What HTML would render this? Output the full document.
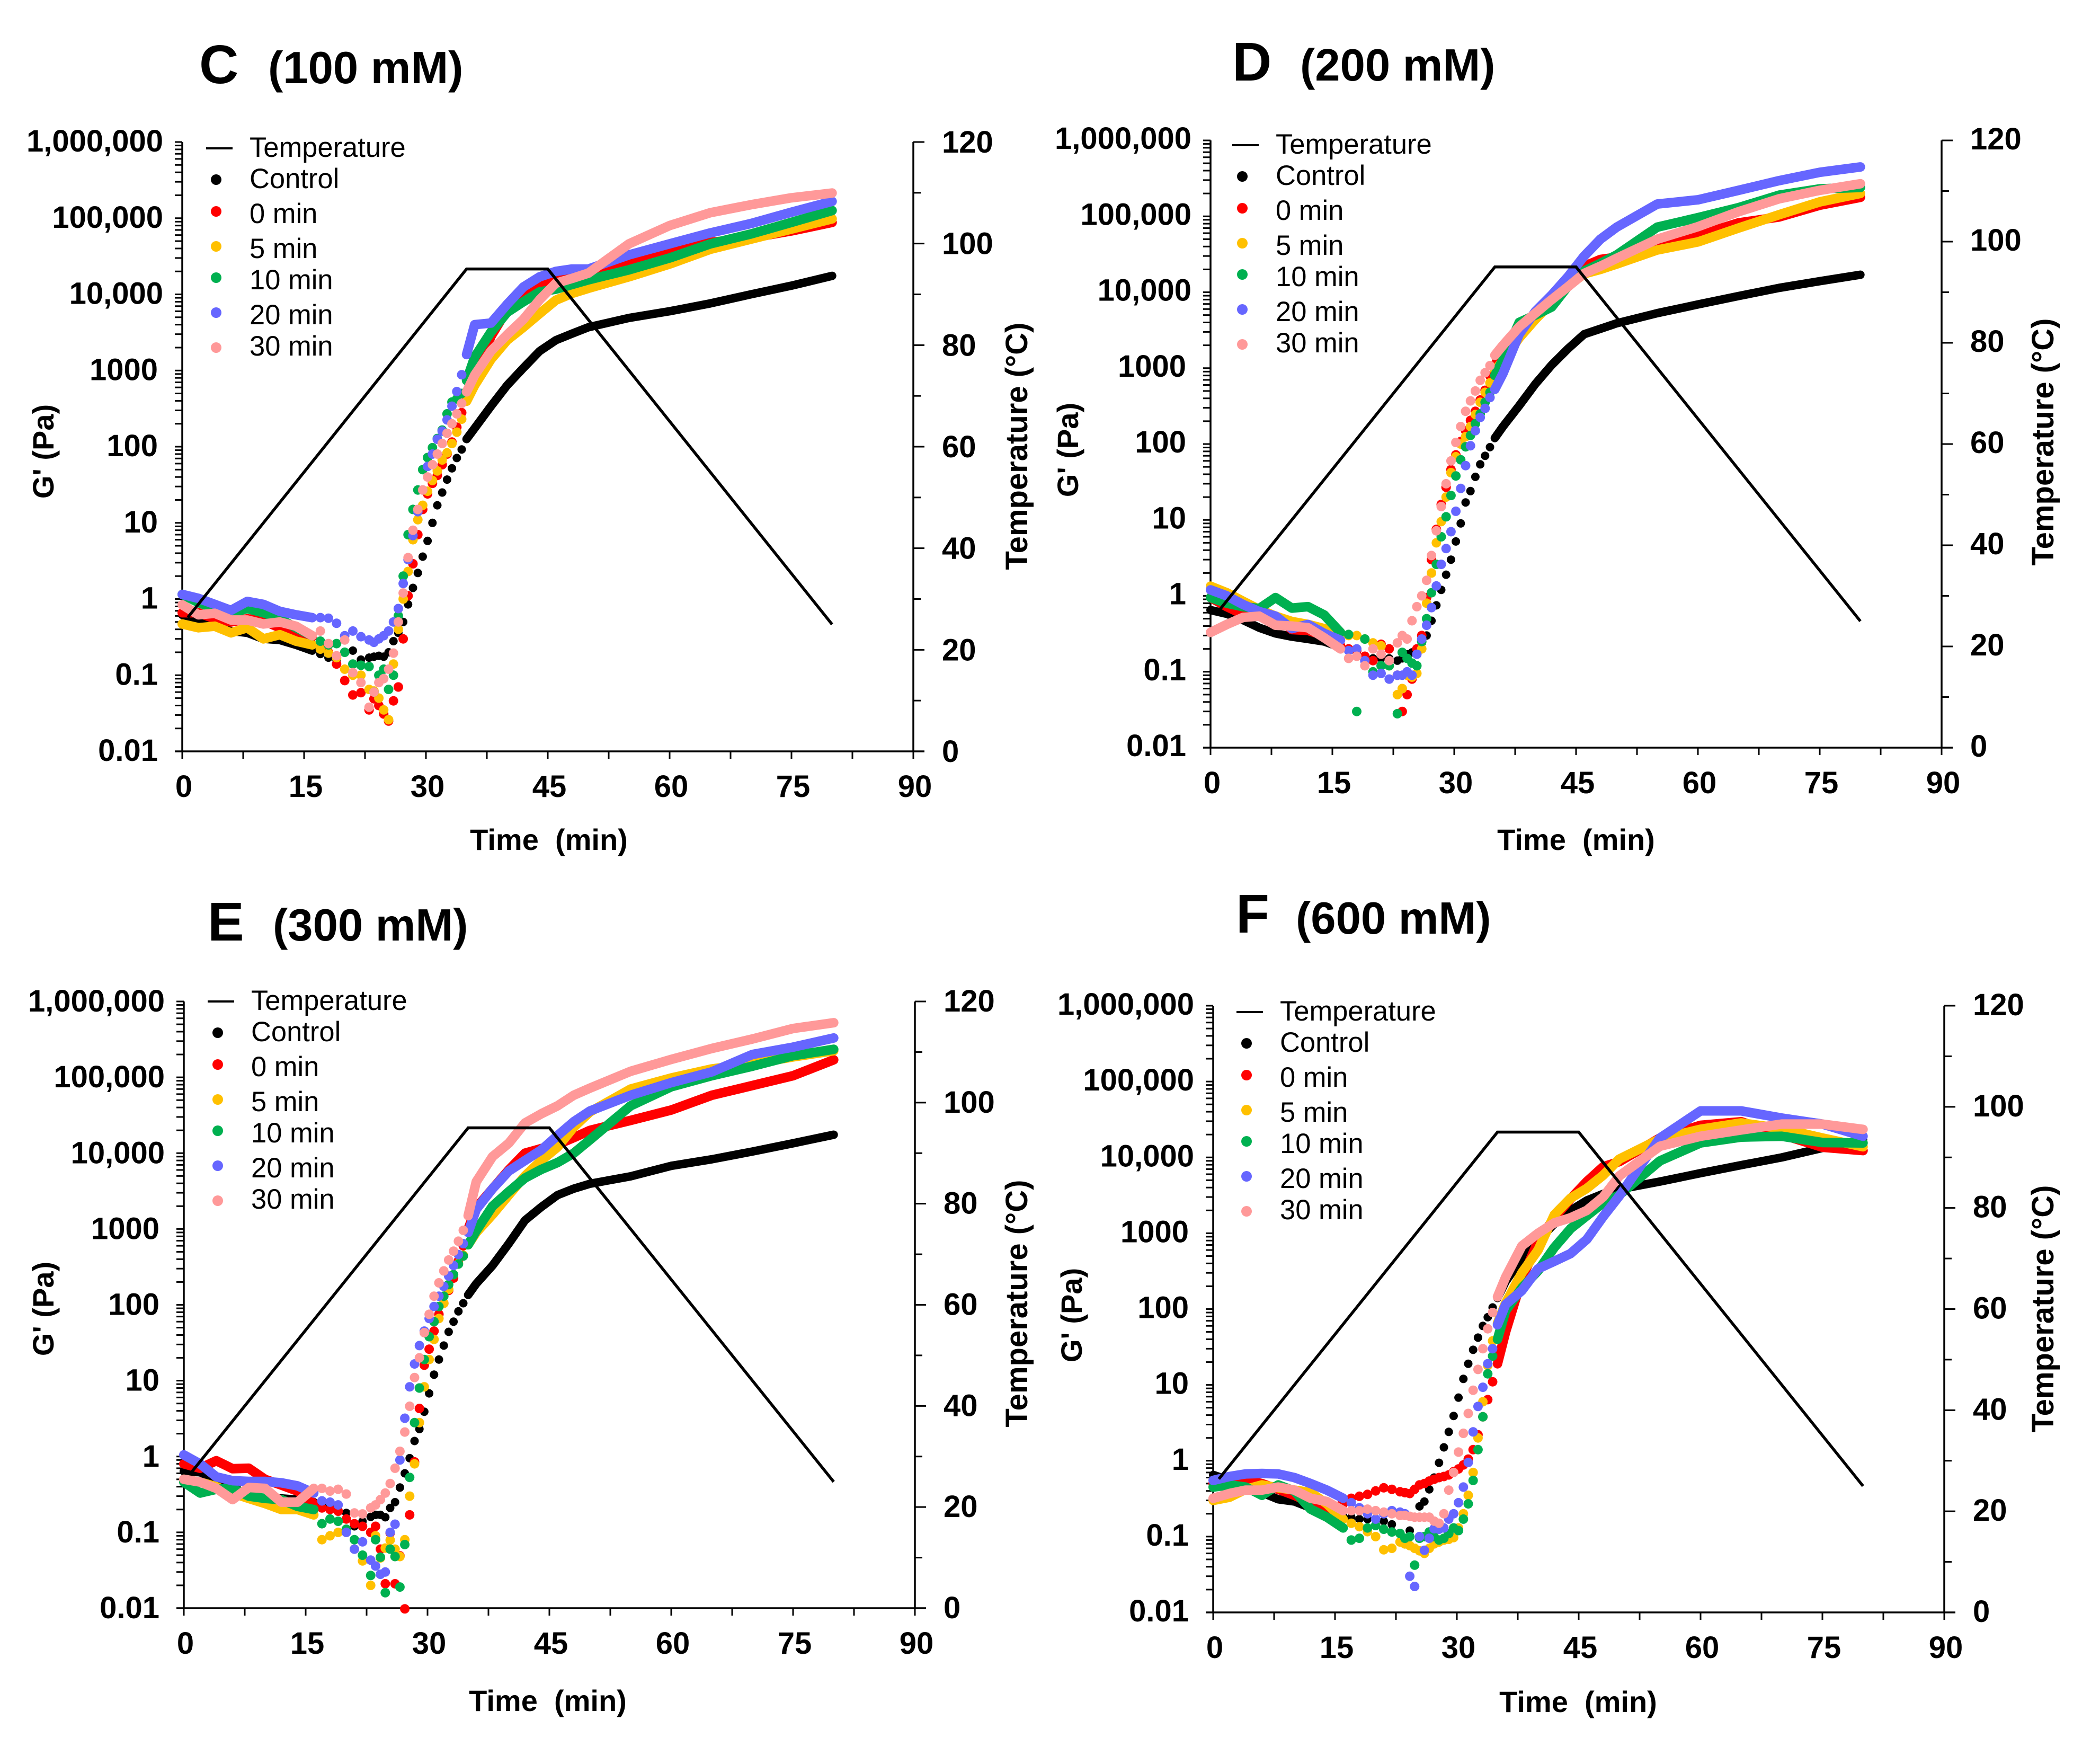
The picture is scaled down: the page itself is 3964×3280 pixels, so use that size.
<!DOCTYPE html>
<html lang="en">
<head>
<meta charset="utf-8">
<title>Storage modulus and temperature versus time at 100, 200, 300 and 600 mM</title>
<style>
html,body{margin:0;padding:0;background:#fff;}
svg{display:block;}
text{font-family:"Liberation Sans",Arial,sans-serif;fill:#000;}
.bold{font-weight:bold;}
.tick{font-size:58px;font-weight:bold;}
.axt{font-size:56px;font-weight:bold;}
.axr{font-size:58px;font-weight:bold;}
.big{font-size:103px;font-weight:bold;}
.sub{font-size:85px;font-weight:bold;}
.leg{font-size:52.5px;}
</style>
</head>
<body>
<svg id="chart" xmlns="http://www.w3.org/2000/svg" width="3964" height="3280" viewBox="0 0 3964 3280">
<rect x="0" y="0" width="3964" height="3280" fill="#fff"/>

<g id="panel-c">
<text class="big" x="376" y="157">C</text>
<text class="sub" x="506" y="157">(100 mM)</text>
<text class="axt" x="1036" y="1604" text-anchor="middle">Time&#160;&#160;(min)</text>
<text class="axt" transform="translate(101,852) rotate(-90)" text-anchor="middle">G' (Pa)</text>
<text class="axr" transform="translate(1939,842) rotate(-90)" text-anchor="middle">Temperature (°C)</text>
<g transform="translate(0,0)">
<line x1="389" y1="280" x2="439" y2="280" stroke="#000" stroke-width="4"/>
<text class="leg" x="471" y="296">Temperature</text>
<circle cx="408" cy="339" r="10" fill="#000"/>
<text class="leg" x="471" y="355">Control</text>
<circle cx="408" cy="399" r="10" fill="#ff0000"/>
<text class="leg" x="471" y="421">0 min</text>
<circle cx="408" cy="465" r="10" fill="#ffc000"/>
<text class="leg" x="471" y="487">5 min</text>
<circle cx="408" cy="524" r="10" fill="#00b050"/>
<text class="leg" x="471" y="546">10 min</text>
<circle cx="408" cy="590" r="10" fill="#6666ff"/>
<text class="leg" x="471" y="612">20 min</text>
<circle cx="408" cy="656" r="10" fill="#ff9999"/>
<text class="leg" x="471" y="671">30 min</text>
</g>
</g>

<g id="panel-d">
<text class="big" x="2326" y="152">D</text>
<text class="sub" x="2454" y="152">(200 mM)</text>
<text class="axt" x="2975" y="1604" text-anchor="middle">Time&#160;&#160;(min)</text>
<text class="axt" transform="translate(2035,849) rotate(-90)" text-anchor="middle">G' (Pa)</text>
<text class="axr" transform="translate(3876,834) rotate(-90)" text-anchor="middle">Temperature (°C)</text>
<g transform="translate(1937,-6)">
<line x1="389" y1="280" x2="439" y2="280" stroke="#000" stroke-width="4"/>
<text class="leg" x="471" y="296">Temperature</text>
<circle cx="408" cy="339" r="10" fill="#000"/>
<text class="leg" x="471" y="355">Control</text>
<circle cx="408" cy="399" r="10" fill="#ff0000"/>
<text class="leg" x="471" y="421">0 min</text>
<circle cx="408" cy="465" r="10" fill="#ffc000"/>
<text class="leg" x="471" y="487">5 min</text>
<circle cx="408" cy="524" r="10" fill="#00b050"/>
<text class="leg" x="471" y="546">10 min</text>
<circle cx="408" cy="590" r="10" fill="#6666ff"/>
<text class="leg" x="471" y="612">20 min</text>
<circle cx="408" cy="656" r="10" fill="#ff9999"/>
<text class="leg" x="471" y="671">30 min</text>
</g>
</g>

<g id="panel-e">
<text class="big" x="392" y="1775">E</text>
<text class="sub" x="515" y="1775">(300 mM)</text>
<text class="axt" x="1034" y="3229" text-anchor="middle">Time&#160;&#160;(min)</text>
<text class="axt" transform="translate(101,2470) rotate(-90)" text-anchor="middle">G' (Pa)</text>
<text class="axr" transform="translate(1939,2460) rotate(-90)" text-anchor="middle">Temperature (°C)</text>
<g transform="translate(3,1610)">
<line x1="389" y1="280" x2="439" y2="280" stroke="#000" stroke-width="4"/>
<text class="leg" x="471" y="296">Temperature</text>
<circle cx="408" cy="339" r="10" fill="#000"/>
<text class="leg" x="471" y="355">Control</text>
<circle cx="408" cy="399" r="10" fill="#ff0000"/>
<text class="leg" x="471" y="421">0 min</text>
<circle cx="408" cy="465" r="10" fill="#ffc000"/>
<text class="leg" x="471" y="487">5 min</text>
<circle cx="408" cy="524" r="10" fill="#00b050"/>
<text class="leg" x="471" y="546">10 min</text>
<circle cx="408" cy="590" r="10" fill="#6666ff"/>
<text class="leg" x="471" y="612">20 min</text>
<circle cx="408" cy="656" r="10" fill="#ff9999"/>
<text class="leg" x="471" y="671">30 min</text>
</g>
</g>

<g id="panel-f">
<text class="big" x="2333" y="1760">F</text>
<text class="sub" x="2446" y="1762">(600 mM)</text>
<text class="axt" x="2979" y="3231" text-anchor="middle">Time&#160;&#160;(min)</text>
<text class="axt" transform="translate(2042,2482) rotate(-90)" text-anchor="middle">G' (Pa)</text>
<text class="axr" transform="translate(3876,2470) rotate(-90)" text-anchor="middle">Temperature (°C)</text>
<g transform="translate(1945,1630)">
<line x1="389" y1="280" x2="439" y2="280" stroke="#000" stroke-width="4"/>
<text class="leg" x="471" y="296">Temperature</text>
<circle cx="408" cy="339" r="10" fill="#000"/>
<text class="leg" x="471" y="355">Control</text>
<circle cx="408" cy="399" r="10" fill="#ff0000"/>
<text class="leg" x="471" y="421">0 min</text>
<circle cx="408" cy="465" r="10" fill="#ffc000"/>
<text class="leg" x="471" y="487">5 min</text>
<circle cx="408" cy="524" r="10" fill="#00b050"/>
<text class="leg" x="471" y="546">10 min</text>
<circle cx="408" cy="590" r="10" fill="#6666ff"/>
<text class="leg" x="471" y="612">20 min</text>
<circle cx="408" cy="656" r="10" fill="#ff9999"/>
<text class="leg" x="471" y="671">30 min</text>
</g>
</g>
</svg>

<script>
// Sampling times (min) shared by every series
var times = [0,2,4,6,8,10,12,14,16, 17,18,19,20,21,22,23,
  23.6,24.2,24.8,25.4,26,26.6,27.2,27.8,28.4,29,29.6,30.2,30.8,31.4,32,32.6,33.2,33.8,34.4,35,
  36,38,40,42,44,46,48,50,55,60,65,70,75,80];

// Temperature program
var tempTimes = [0.7,35,45,80];
var tempValues = [26.4,95,95,25];

// Tick values and labels
var xTickValues = [0,15,30,45,60,75,90];
var xMinorTickValues = [7.5,22.5,37.5,52.5,67.5,82.5];
var yTickValues = [0.01,0.1,1,10,100,1000,10000,100000,1000000];
var yTickLabels = ['0.01','0.1','1','10','100','1000','10,000','100,000','1,000,000'];
var tempTickValues = [0,20,40,60,80,100,120];
var tempMinorTickValues = [10,30,50,70,90,110];
var seriesNames = ['control','0-min','5-min','10-min','20-min','30-min'];

// Panel C (100 mM): G' in Pa
var c_control = [.62,.52,.45,.38,.36,.3,.29,.25,.21, .19,.17,.157,.2,.21,.16,.17,
  .175,.18,.175,.2,.28,.36,.5,.85,1.4,2.2,3.6,5.8,10,17,25,37,52,71,92,126,
  175,340,640,1080,1800,2500,3050,3700,4900,6000,7600,10000,13000,17500];
var c_0min = [.66,.66,.55,.5,.55,.52,.42,.35,.32, .26,.2,.14,.085,.055,.059,.035,
  .049,.04,.031,.025,.046,.07,.3,1.1,2.9,7,15,24,33,42,58,80,115,180,280,420,
  800,2800,6300,10000,13000,16000,18000,20000,28000,36000,48000,55000,68000,88000];
var c_5min = [.47,.42,.44,.36,.42,.3,.34,.28,.25, .22,.195,.17,.12,.1,.1,.065,
  .062,.05,.035,.026,.14,.4,1,2.3,6,11,17,26,36,48,67,83,110,155,230,395,
  640,1400,2500,3700,5600,8400,10300,12000,17000,25000,39000,53000,72000,98000];
var c_10min = [1.15,.9,.75,.65,.75,.66,.55,.42,.33, .28,.25,.26,.2,.14,.135,.13,
  .06,.1,.12,.065,.1,.6,2,7,15,27,50,72,97,128,165,270,385,425,500,740,
  1500,3200,5800,8000,10800,11700,13500,15500,21000,30000,46000,62000,88000,126000];
var c_20min = [1.15,1.02,.85,.71,.93,.85,.69,.62,.57, .57,.56,.48,.33,.38,.32,.29,
  .27,.3,.33,.38,.5,.75,1.6,3.3,6.8,14,27,55,80,125,160,225,340,530,880,1620,
  4000,4200,7400,12500,17000,20000,21500,21500,33000,46000,64000,85000,120000,166000];
var c_30min = [.84,.62,.65,.53,.53,.47,.5,.44,.33, .38,.26,.18,.29,.108,.08,.038,
  .06,.08,.09,.12,.195,.5,1.2,3.5,8,15,27,40,58,80,110,150,200,270,370,525,
  870,1800,2950,4700,8500,14000,16200,19000,46000,80000,118000,150000,185000,214000];

// Panel D (200 mM)
var d_control = [.65,.58,.48,.38,.32,.29,.27,.25,.21, .19,.17,.15,.15,.15,.15,.14,
  .15,.17,.18,.19,.24,.3,.47,.75,1.2,1.9,3,5.2,9,17,24,37,54,70,91,120,
  170,320,620,1100,1800,2800,3300,3900,5300,6900,8900,11400,14000,17000];
var d_0min = [.95,.72,.57,.55,.54,.36,.35,.3,.22, .2,.19,.16,.14,.23,.2,.09,
  .03,.05,.08,.2,.3,.95,3,7.5,16,27,46,72,108,150,205,270,380,510,790,1100,
  1700,3300,5300,7700,13000,22000,27000,29000,44000,56000,82000,98000,140000,178000];
var d_5min = [1.34,1.1,.85,.66,.54,.46,.42,.37,.31, .3,.3,.27,.24,.22,.12,.05,
  .06,.09,.085,.095,.2,.8,2,5,9.5,20,42,68,100,125,170,245,355,480,640,930,
  1250,2500,4400,7300,12000,17500,20000,23500,36000,46000,70000,105000,155000,200000];
var d_10min = [.95,.8,.72,.68,.95,.69,.72,.56,.33, .31,.03,.27,.1,.12,.12,.028,
  .18,.15,.13,.12,.25,.5,1.1,2.6,6,11,21,38,62,92,130,185,250,355,480,800,
  1300,4000,5000,6400,12000,19000,24000,31000,72000,96000,130000,190000,230000,240000];
var d_20min = [1.2,1,.77,.62,.54,.37,.42,.32,.26, .19,.2,.14,.09,.095,.08,.09,
  .09,.1,.09,.17,.27,.41,.7,1.35,2.6,4.2,7,13,26,52,95,150,224,295,410,525,
  850,2800,5600,9200,16000,30000,50000,72000,145000,165000,220000,295000,380000,447000];
var d_30min = [.33,.42,.52,.54,.41,.4,.38,.28,.2, .15,.16,.12,.2,.17,.14,.24,
  .3,.27,.47,.72,1,1.6,3.4,7.2,15,30,60,105,170,270,370,500,690,870,1080,1480,
  2000,3500,5300,8000,11800,17700,22000,28000,50000,73000,115000,170000,220000,269000];

// Panel E (300 mM)
var e_control = [.64,.62,.5,.4,.3,.27,.28,.27,.25, .23,.22,.2,.18,.12,.14,.16,
  .17,.17,.158,.21,.25,.39,.6,.95,1.6,2.3,3.9,6.8,12,19,29,44,60,82,105,135,
  190,330,640,1300,1950,2800,3400,3950,4950,6800,8300,10500,13500,17500];
var e_0min = [.8,.7,.88,.69,.7,.5,.42,.35,.24, .21,.2,.19,.15,.13,.12,.1,
  .12,.06,.021,.098,.021,.049,.0098,.17,.85,4.3,16,26,45,75,105,155,225,380,600,1000,
  1900,3400,6000,10000,11500,13000,16000,20000,27000,37000,58000,78000,105000,170000];
var e_5min = [.5,.46,.4,.33,.28,.24,.2,.2,.17, .08,.09,.1,.1,.06,.042,.02,
  .09,.046,.062,.079,.06,.048,.08,.3,.8,2.8,8.3,19,35,66,105,160,250,350,450,620,
  900,1550,2800,5000,8000,12000,22000,35000,70000,98000,129000,150000,186000,224000];
var e_10min = [.46,.33,.37,.38,.3,.28,.27,.22,.2, .13,.15,.14,.11,.08,.05,.027,
  .08,.047,.016,.06,.048,.019,.069,.53,2.8,8,19,38,60,95,130,185,250,345,440,620,
  950,2000,3100,4700,6100,7500,10000,15000,42000,75000,105000,140000,193000,234000];
var e_20min = [1.05,.8,.54,.48,.47,.47,.45,.41,.33, .26,.25,.23,.1,.06,.075,.043,
  .036,.028,.03,.1,.128,.9,3.2,8.3,16.6,29,45,66,95,130,175,240,330,460,640,900,
  1820,3400,5800,8000,11000,17000,26000,36000,58000,85000,118000,200000,250000,330000];
var e_30min = [.5,.46,.38,.27,.39,.38,.25,.25,.38, .38,.35,.37,.32,.18,.175,.21,
  .23,.27,.33,.44,.7,1.17,2.1,4.6,11,20,43,75,130,195,280,390,510,690,960,1500,
  4200,9000,13500,25000,33000,42000,58000,72000,120000,172000,240000,320000,440000,525000];

// Panel F (600 mM)
var f_control = [.65,.55,.45,.38,.31,.29,.24,.21,.19, .18,.17,.17,.17,.16,.145,.11,
  .08,.12,.18,.25,.29,.42,.6,.94,1.5,2.4,3.9,6.8,12,19,29,42,60,78,105,140,
  230,470,800,1330,2000,2700,3300,3800,4800,6200,7900,10000,13300,17000];
var f_0min = [.5,.58,.55,.5,.42,.35,.28,.2,.27, .32,.34,.36,.4,.44,.42,.39,
  .38,.37,.42,.48,.5,.54,.57,.6,.62,.65,.72,.78,.88,1.05,1.4,2.2,3.8,6.4,11,19,
  50,250,780,1600,2850,4800,7500,8800,18000,26500,29500,20000,13600,12300];
var f_5min = [.3,.33,.42,.48,.44,.41,.38,.27,.17, .15,.135,.116,.1,.067,.07,.085,
  .08,.076,.07,.065,.06,.07,.08,.085,.09,.092,.097,.13,.2,.35,.7,2,6,18,38,65,
  120,300,600,1750,2900,3900,5800,9500,17500,23500,28500,24000,18000,13800];
var f_10min = [.45,.48,.45,.35,.48,.4,.23,.18,.13, .09,.095,.13,.14,.125,.115,.11,
  .095,.1,.042,.095,.1,.115,.1,.09,.095,.11,.13,.12,.17,.27,.55,1.4,3.8,14,24,40,
  95,190,320,650,1150,1700,2500,3200,9000,15500,18500,19000,15700,15500];
var f_20min = [.55,.62,.67,.68,.67,.6,.5,.41,.32, .28,.24,.2,.17,.2,.22,.21,
  .2,.03,.022,.1,.066,.095,.127,.125,.13,.17,.2,.28,.45,.95,2.4,5.2,9.3,19,30,62,
  115,175,340,427,540,830,1650,3100,18000,41000,41000,33000,27500,19000];
var f_30min = [.32,.37,.41,.41,.45,.41,.32,.29,.22, .22,.22,.23,.22,.21,.2,.19,
  .19,.185,.18,.18,.18,.18,.16,.15,.2,.41,.7,1.3,2.3,4.2,8.5,16,30,55,90,145,
  263,680,1000,1370,1600,2000,3000,5700,14000,19000,23000,27500,27500,23400];

var NS = 'http://www.w3.org/2000/svg';
var seriesColors = ['#000000','#ff0000','#ffc000','#00b050','#6666ff','#ff9999'];

function make(tag, attrs, parent, text) {
  var node = document.createElementNS(NS, tag);
  for (var k in attrs) node.setAttribute(k, attrs[k]);
  if (text !== undefined) node.textContent = text;
  parent.appendChild(node);
  return node;
}

function drawPanel(id, x0, top, bottom, yLabelBase, tempLabelBase, series) {
  var root = document.getElementById(id);
  var plotW = 1380;
  var H = bottom - top;
  var decade = H / 8;
  function xScale(t) { return x0 + t / 90 * plotW; }
  function yScale(g) { return bottom - (Math.log(g) / Math.LN10 + 2) * decade; }
  function tempScale(v) { return bottom - v / 120 * H; }
  var right = xScale(90);

  var axes = make('g', {}, root);
  
  
  var leftLine = make('line', {x1:x0, y1:top, x2:x0, y2:bottom, stroke:'#000', 'stroke-width':3.5}, axes);
  
  
  var rightLine = make('line', {x1:right, y1:top, x2:right, y2:bottom, stroke:'#000', 'stroke-width':3.5}, axes);
  
  
  var bottomLine = make('line', {x1:x0-14, y1:bottom, x2:right+21, y2:bottom, stroke:'#000', 'stroke-width':3.5}, axes);
  
  

  xTickValues.forEach(function (v) {
    var tick = make('line', {x1:xScale(v), y1:bottom, x2:xScale(v), y2:bottom+14, stroke:'#000', 'stroke-width':3}, axes);
    
    
    var label = make('text', {x:xScale(v)+3, y:bottom+86, 'text-anchor':'middle', 'class':'tick'}, axes, String(v));
    
    
  });
  xMinorTickValues.forEach(function (v) {
    var tick = make('line', {x1:xScale(v), y1:bottom, x2:xScale(v), y2:bottom+14, stroke:'#000', 'stroke-width':3}, axes);
    
    
  });

  yTickValues.forEach(function (v, i) {
    var tick = make('line', {x1:x0-14, y1:yScale(v), x2:x0, y2:yScale(v), stroke:'#000', 'stroke-width':3}, axes);
    
    
    var hasComma = yTickLabels[i].indexOf(',') >= 0;
    var label = make('text', {x:x0-(hasComma?36:46), y:yScale(v)+yLabelBase, 'text-anchor':'end', 'class':'tick'}, axes, yTickLabels[i]);
    
    
    if (i < yTickValues.length - 1) {
      for (var m = 2; m < 10; m++) {
        var minor = make('line', {x1:x0-14, y1:yScale(v*m), x2:x0, y2:yScale(v*m), stroke:'#000', 'stroke-width':3}, axes);
        
        
      }
    }
  });

  tempTickValues.forEach(function (v) {
    var tick = make('line', {x1:right, y1:tempScale(v), x2:right+21, y2:tempScale(v), stroke:'#000', 'stroke-width':3}, axes);
    
    
    var label = make('text', {x:right+54, y:tempScale(v)+tempLabelBase, 'class':'tick'}, axes, String(v));
    
    
  });
  tempMinorTickValues.forEach(function (v) {
    var tick = make('line', {x1:right, y1:tempScale(v), x2:right+14, y2:tempScale(v), stroke:'#000', 'stroke-width':3}, axes);
    
    
  });

  series.forEach(function (values, s) {
    var color = seriesColors[s];
    var diameter = s === 0 ? 16 : 18;
    var group = make('g', {}, root);
    
    
    // Early (t <= 16) and post-ramp (t >= 35) samples are so dense that the markers merge into a band.
    var early = [], late = [];
    times.forEach(function (t, i) {
      var pt = xScale(t).toFixed(1) + ',' + yScale(values[i]).toFixed(1);
      if (t <= 16) early.push(pt);
      if (t >= 35) late.push(pt);
    });
    [early, late].forEach(function (pts) {
      var band = make('polyline', {points:pts.join(' '), fill:'none', stroke:color, 'stroke-width':diameter, 'stroke-linecap':'round', 'stroke-linejoin':'round'}, group);
      
      
    });
    times.forEach(function (t, i) {
      if (t > 16 && t < 35) {
        var dot = make('circle', {cx:xScale(t).toFixed(1), cy:yScale(values[i]).toFixed(1), r:diameter/2, fill:color}, group);
        
        
      }
    });
  });

  var tempPts = tempTimes.map(function (t, i) { return xScale(t).toFixed(1) + ',' + tempScale(tempValues[i]).toFixed(1); });
  var temp = make('polyline', {points:tempPts.join(' '), fill:'none', stroke:'#000', 'stroke-width':5.5}, root);
  
  
}

drawPanel('panel-c', 344, 268, 1418, 18, 20, [c_control,c_0min,c_5min,c_10min,c_20min,c_30min]);
drawPanel('panel-d', 2285, 265, 1411, 16, 17, [d_control,d_0min,d_5min,d_10min,d_20min,d_30min]);
drawPanel('panel-e', 347, 1890, 3035, 19, 19, [e_control,e_0min,e_5min,e_10min,e_20min,e_30min]);
drawPanel('panel-f', 2290, 1898, 3043, 17, 18, [f_control,f_0min,f_5min,f_10min,f_20min,f_30min]);
</script>
</body>
</html>
